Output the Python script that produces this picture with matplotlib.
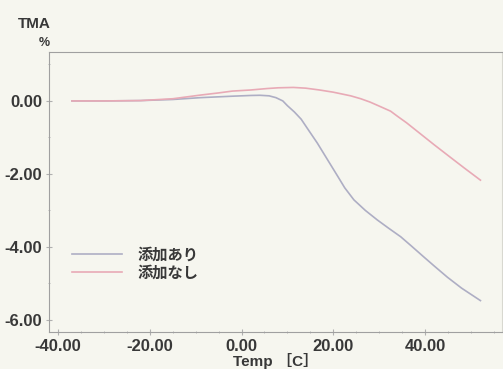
import matplotlib.pyplot as plt
from matplotlib.ticker import MultipleLocator, FormatStrFormatter

plt.rcParams['font.family'] = ['Liberation Sans', 'Noto Sans CJK JP']
plt.rcParams['axes.unicode_minus'] = False
plt.rcParams['font.weight'] = 'bold'

# 添加あり
temp_with = [-37, -30, -22, -15, -9, -2, 2, 4, 6, 7.5, 9, 10, 11.5, 13, 14.5,
             16.5, 18.7, 21, 22.5, 24.5, 27, 29.6, 32, 34.7, 37, 39.8, 42,
             44.9, 48, 52.1]
tma_with = [0.0, 0.0, 0.01, 0.04, 0.09, 0.13, 0.15, 0.155, 0.14, 0.09, 0.0,
            -0.13, -0.3, -0.5, -0.78, -1.15, -1.6, -2.07, -2.38, -2.71, -3.0,
            -3.26, -3.48, -3.72, -3.97, -4.28, -4.52, -4.83, -5.13, -5.47]

# 添加なし
temp_without = [-37, -30, -22, -15, -9, -5, -2, 2, 5.6, 8, 11.3, 14, 17, 20,
                23.8, 26, 28, 30, 32.5, 34, 36, 38, 39.7, 42, 45.6, 48.5, 52.1]
tma_without = [0.0, 0.0, 0.01, 0.06, 0.16, 0.22, 0.27, 0.30, 0.34, 0.36, 0.37,
               0.35, 0.30, 0.24, 0.14, 0.06, -0.03, -0.14, -0.28, -0.42, -0.6,
               -0.8, -0.97, -1.2, -1.55, -1.83, -2.17]

bg = '#f6f6ef'
txt = '#383838'
fig = plt.figure(figsize=(5.03, 3.69), dpi=100, facecolor=bg)
ax = fig.add_axes([0.0974, 0.1003, 0.9006, 0.7587], facecolor=bg)

ax.plot(temp_with, tma_with, color='#aeaec4', lw=1.2, label='添加あり')
ax.plot(temp_without, tma_without, color='#e8aab6', lw=1.2, label='添加なし')

ax.set_xlim(-42, 56.8)
ax.set_ylim(-6.33, 1.34)
ax.xaxis.set_major_locator(MultipleLocator(20))
ax.xaxis.set_minor_locator(MultipleLocator(5))
ax.yaxis.set_major_locator(MultipleLocator(2))
ax.yaxis.set_minor_locator(MultipleLocator(1))
ax.xaxis.set_major_formatter(FormatStrFormatter('%.2f'))
ax.yaxis.set_major_formatter(FormatStrFormatter('%.2f'))
ax.tick_params(which='both', direction='inout', color='#b0b0b0',
               labelsize=12, labelcolor=txt, pad=3)
ax.tick_params(which='major', length=4)
ax.tick_params(which='minor', length=2)

for side in ['left', 'bottom', 'top']:
    ax.spines[side].set_color('#a0a0a0')
ax.spines['right'].set_color('#d8d8d0')

ax.set_xlabel('Temp ［C］', fontsize=11, fontweight='bold', color=txt, labelpad=-1)
fig.text(0.068, 0.935, 'TMA', fontsize=11, color=txt, ha='center', va='center')
fig.text(0.089, 0.884, '%', fontsize=9, color=txt, ha='center', va='center')

leg = ax.legend(loc='upper left', bbox_to_anchor=(0.02, 0.35), frameon=False,
                fontsize=11, handlelength=3.3, handletextpad=1.0,
                labelspacing=0.2)
for t in leg.get_texts():
    t.set_color(txt)

fig.savefig('out.png', dpi=100, facecolor=bg)
